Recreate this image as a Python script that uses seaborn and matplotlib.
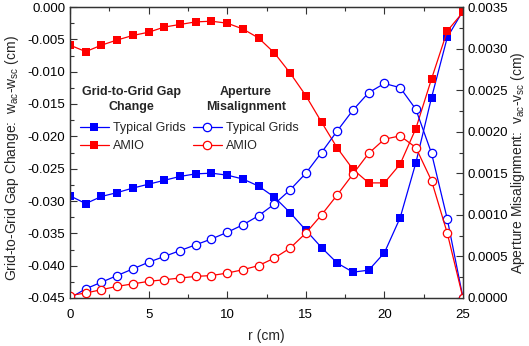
import numpy as np
import pandas as pd
import matplotlib
matplotlib.use("Agg")
import matplotlib.pyplot as plt
import seaborn as sns
from matplotlib.lines import Line2D
from matplotlib.ticker import MultipleLocator, FormatStrFormatter

r = list(range(26))
gap_typical = [-0.0292, -0.0304, -0.0293, -0.0287, -0.0280, -0.0274, -0.0268, -0.0262,
               -0.0258, -0.0257, -0.0260, -0.0266, -0.0277, -0.0294, -0.0318, -0.0345,
               -0.0372, -0.0396, -0.0410, -0.0407, -0.0380, -0.0326, -0.0241, -0.0140,
               -0.0047, -0.0006]
gap_amio = [-0.0059, -0.0069, -0.0059, -0.0051, -0.0044, -0.0039, -0.0031, -0.0027,
            -0.0023, -0.0022, -0.0025, -0.0034, -0.0048, -0.0071, -0.0102, -0.0137,
            -0.0178, -0.0218, -0.0251, -0.0272, -0.0272, -0.0243, -0.0188, -0.0111,
            -0.0037, -0.0008]
mis_typical = [0.0000, 0.00011, 0.00019, 0.00027, 0.00035, 0.00043, 0.00050, 0.00057,
               0.00064, 0.00071, 0.00079, 0.00088, 0.00099, 0.00113, 0.00130, 0.00150,
               0.00175, 0.00201, 0.00226, 0.00247, 0.00258, 0.00253, 0.00227, 0.00174,
               0.00095, 0.0000]
mis_amio = [0.00003, 0.00006, 0.00010, 0.00014, 0.00017, 0.00020, 0.00022, 0.00024,
            0.00026, 0.00027, 0.00030, 0.00034, 0.00039, 0.00048, 0.00060, 0.00078,
            0.00100, 0.00124, 0.00149, 0.00174, 0.00191, 0.00195, 0.00181, 0.00141,
            0.00078, 0.0000]

legend_titles = ['Grid-to-Grid Gap\nChange', 'Aperture\nMisalignment']
legend_labels = ['Typical Grids', 'AMIO']

sns.set_style("ticks")
plt.rcParams['font.family'] = ['Liberation Sans', 'DejaVu Sans']
plt.rcParams['axes.unicode_minus'] = False
plt.rcParams['mathtext.fontset'] = 'custom'
plt.rcParams['mathtext.rm'] = 'Liberation Sans'
plt.rcParams['mathtext.it'] = 'Liberation Sans'

BLUE = '#0000ff'
RED = '#ff0000'
FS = 9.5
LFS = 9.0

W, H = 529, 346
fig = plt.figure(figsize=(W/100, H/100), dpi=100)
ax = fig.add_axes([70/W, 1-298/H, 393/W, 291/H])
ax2 = ax.twinx()

sq = dict(marker='s', markersize=5.5, markeredgewidth=0, linewidth=0.9)
ci = dict(marker='o', markersize=6, markerfacecolor='white', markeredgewidth=0.9, linewidth=0.9)

sns.lineplot(x=r, y=gap_typical, ax=ax, color=BLUE, markeredgecolor=BLUE, **sq)
sns.lineplot(x=r, y=gap_amio, ax=ax, color=RED, markeredgecolor=RED, **sq)
sns.lineplot(x=r, y=mis_typical, ax=ax2, color=BLUE, markeredgecolor=BLUE, **ci)
sns.lineplot(x=r, y=mis_amio, ax=ax2, color=RED, markeredgecolor=RED, **ci)

ax.set_xlim(0, 25)
ax.set_ylim(-0.045, 0.0)
ax2.set_ylim(0.0, 0.0035)

ax.xaxis.set_major_locator(MultipleLocator(5))
ax.xaxis.set_minor_locator(MultipleLocator(2.5))
ax.yaxis.set_major_locator(MultipleLocator(0.005))
ax.yaxis.set_minor_locator(MultipleLocator(0.0025))
ax.yaxis.set_major_formatter(FormatStrFormatter('%.3f'))
ax2.yaxis.set_major_locator(MultipleLocator(0.0005))
ax2.yaxis.set_minor_locator(MultipleLocator(0.00025))
ax2.yaxis.set_major_formatter(FormatStrFormatter('%.4f'))

for a in (ax, ax2):
    for s in a.spines.values():
        s.set_visible(True)
        s.set_linewidth(0.9)
        s.set_color('#333333')
ax.tick_params(axis='both', which='both', direction='in', labelsize=FS, top=True, colors='#333333', labelcolor='black')
ax.tick_params(axis='y', which='both', right=False)
ax.tick_params(axis='x', which='major', pad=8)
ax.tick_params(which='major', length=5, width=0.8)
ax.tick_params(which='minor', length=3, width=0.8)
ax2.tick_params(axis='y', which='both', direction='in', labelsize=FS, colors='#333333', labelcolor='black')
ax2.tick_params(which='major', length=5, width=0.8)
ax2.tick_params(which='minor', length=3, width=0.8)

ax.set_xlabel('r (cm)', fontsize=FS + 0.5, labelpad=6)
ax.set_ylabel('Grid-to-Grid Gap Change:  w$_{ac}$-w$_{sc}$ (cm)', fontsize=FS + 0.5)
ax2.set_ylabel('Aperture Misalignment:  v$_{ac}$-v$_{sc}$ (cm)', fontsize=FS + 0.5, rotation=90)
ax.yaxis.set_label_coords(-0.125, 0.481)
ax2.yaxis.set_label_coords(1.117, 0.466)

def px(x, y):
    return ((x-70)/393, 1-(y-7)/291)

for title, cx in zip(legend_titles, [131, 246]):
    ax2.text(*px(cx, 99.5), title, transform=ax2.transAxes, ha='center', va='center',
             fontsize=LFS, fontweight='bold', linespacing=1.35, multialignment='center')

h1 = [Line2D([], [], color=BLUE, **sq, markeredgecolor=BLUE),
      Line2D([], [], color=RED, **sq, markeredgecolor=RED)]
h2 = [Line2D([], [], color=BLUE, **ci, markeredgecolor=BLUE),
      Line2D([], [], color=RED, **ci, markeredgecolor=RED)]
common = dict(frameon=False, fontsize=LFS, handlelength=2.3, handletextpad=0.35,
              labelspacing=0.5, borderpad=0, borderaxespad=0)
leg1 = ax2.legend(h1, legend_labels, loc='upper left', bbox_to_anchor=px(80, 122), **common)
ax2.add_artist(leg1)
leg2 = ax2.legend(h2, legend_labels, loc='upper left', bbox_to_anchor=px(193, 122), **common)

fig.savefig('out.png', dpi=100)
